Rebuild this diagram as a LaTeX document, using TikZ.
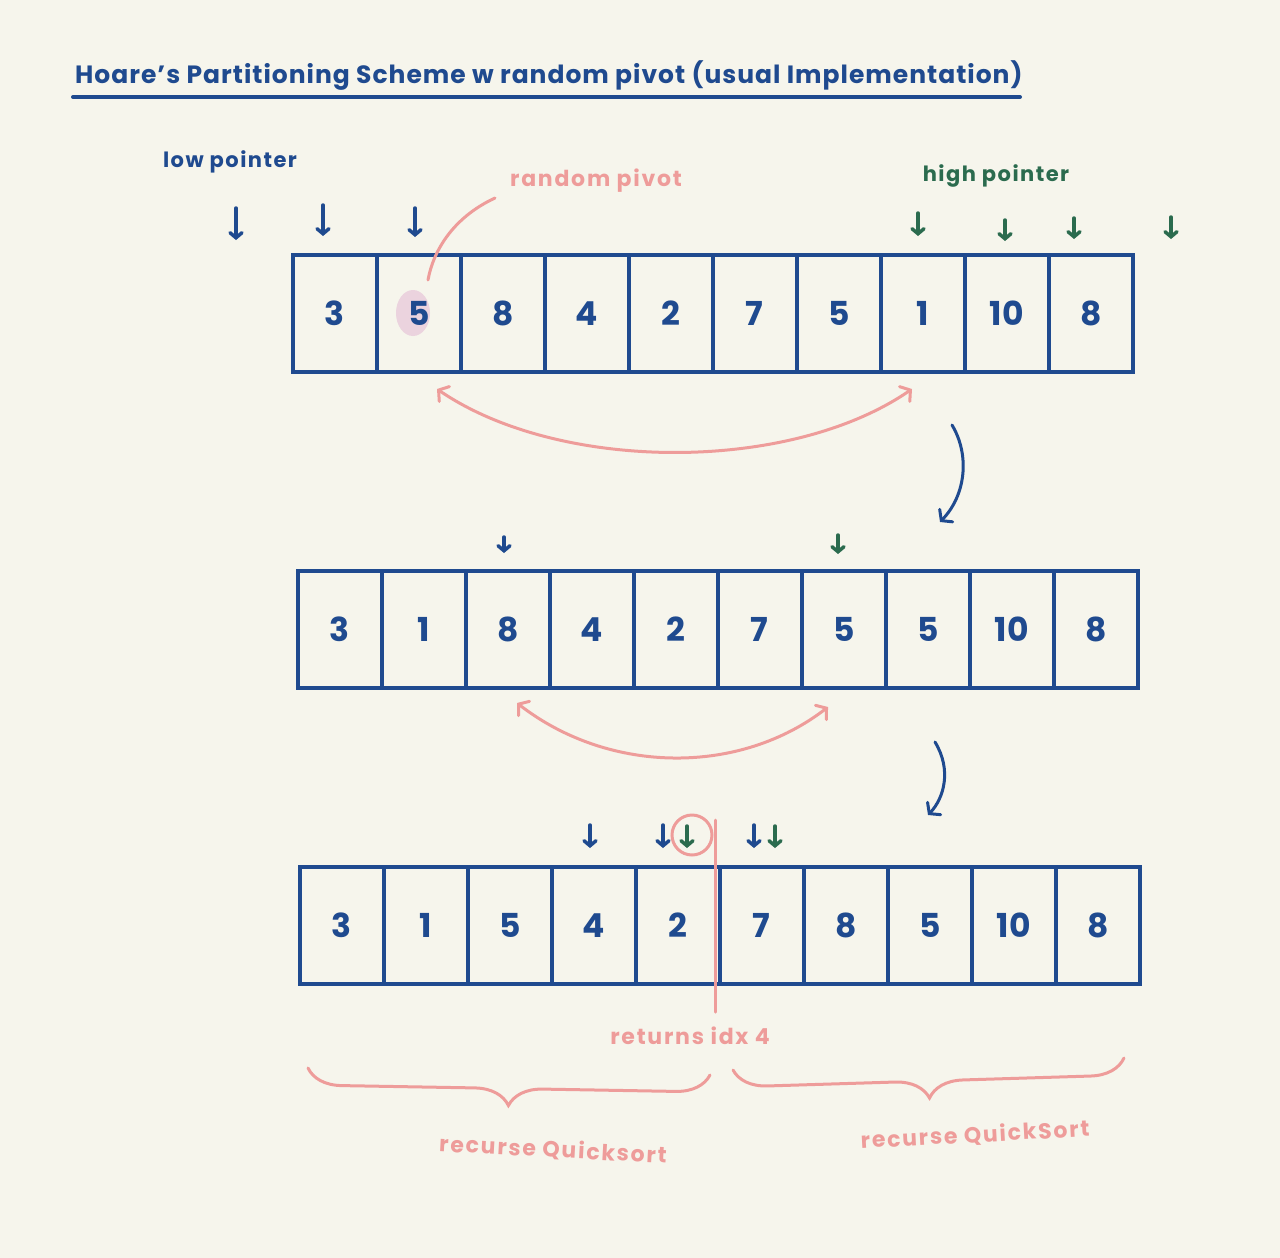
\documentclass[tikz,border=0pt]{standalone}
\usepackage{fontspec}
\setmainfont{Poppins}
\usetikzlibrary{arrows.meta,decorations.pathreplacing,calc,shapes.geometric}
\definecolor{bg}{HTML}{F6F5EC}
\definecolor{navy}{HTML}{1F4A8F}
\definecolor{grn}{HTML}{2B6B4E}
\definecolor{pnk}{HTML}{EE9C9A}
\definecolor{lilac}{HTML}{EBD3DE}
\tikzset{
  cell/.style={draw=navy,line width=3.5pt,minimum width=84pt,minimum height=117pt,inner sep=0pt,
    text=navy,font=\fontsize{33}{33}\selectfont\bfseries,anchor=north west},
  bptr/.style={draw=navy,line width=3.5pt,line cap=round,-{Straight Barb[length=5pt,width=12pt,line cap=round]}},
  gptr/.style={draw=grn,line width=3.5pt,line cap=round,-{Straight Barb[length=5pt,width=12pt,line cap=round]}},
  swap/.style={draw=pnk,line width=3pt,line cap=round,{Straight Barb[length=7pt,width=18pt,line cap=round]}-{Straight Barb[length=7pt,width=18pt,line cap=round]}},
  flow/.style={draw=navy,line width=3pt,line cap=round,-{Straight Barb[length=7pt,width=18pt,line cap=round]}},
  pline/.style={draw=pnk,line width=3pt,line cap=round},
  pbrace/.style={draw=pnk,line width=3pt,line cap=round,decorate,decoration={brace,mirror,amplitude=34pt,aspect=0.5}},
  ptxt/.style={text=pnk,font=\fontsize{22}{22}\selectfont\bfseries\addfontfeatures{LetterSpace=8},inner sep=0pt},
  ntxt/.style={text=navy,font=\fontsize{21}{21}\selectfont\bfseries\addfontfeatures{LetterSpace=7},inner sep=0pt},
  gtxt/.style={text=grn,font=\fontsize{21}{21}\selectfont\bfseries\addfontfeatures{LetterSpace=7},inner sep=0pt},
}
\begin{document}
\begin{tikzpicture}[x=1pt,y=-1pt]
\fill[bg] (0,0) rectangle (1280,1258);
\useasboundingbox (0,0) rectangle (1280,1258);

% title
\node[text=navy,font=\fontsize{25}{25}\selectfont\bfseries\addfontfeatures{LetterSpace=4},inner sep=0pt,anchor=base west] (title) at (75,83)
  {Hoare's Partitioning Scheme w random pivot (usual Implementation)};
\coordinate (ul1) at (73,97);
\coordinate (ul2) at (1020,97);
\draw[navy,line width=4pt,line cap=round] (ul1) -- (ul2);

% labels
\node[ntxt] (lowlbl) at (230,162) {low pointer};
\node[ptxt] (rplbl) at (596,181) {random pivot};
\node[gtxt] (highlbl) at (996,176) {high pointer};

% pivot highlight
\node[ellipse,fill=lilac,minimum width=34pt,minimum height=46pt,inner sep=0pt] (pivhl) at (413,313) {};

% row 1
\foreach \v [count=\i] in {3,5,8,4,2,7,5,1,10,8}
  \node[cell] (a\i) at ({291+84*(\i-1)},253) {\v};
% row 2
\foreach \v [count=\i] in {3,1,8,4,2,7,5,5,10,8}
  \node[cell] (b\i) at ({296+84*(\i-1)},569) {\v};
% row 3
\foreach \v [count=\i] in {3,1,5,4,2,7,8,5,10,8}
  \node[cell] (c\i) at ({298+84*(\i-1)},865) {\v};

% random pivot pointer
\coordinate (rp1) at (495,198);
\coordinate (rp2) at (428,280);
\draw[pline] (rp1) .. controls (452,218) and (433,252) .. (rp2);

% pointers row 1
\foreach \x/\ya/\yb in {236/208/240,323/205/236,415/208/237}
  \draw[bptr] (\x,\ya) -- (\x,\yb);
\foreach \x/\ya/\yb in {918/213/236,1005/220/241,1074/218/239,1171/217/239}
  \draw[gptr] (\x,\ya) -- (\x,\yb);
% pointers row 2
\draw[bptr] (504,537) -- (504,553);
\draw[gptr] (838,535) -- (838,554);
% pointers row 3
\foreach \x in {590,663,754}
  \draw[bptr] (\x,825) -- (\x,848);
\foreach \x in {687,775}
  \draw[gptr] (\x,826) -- (\x,848);
\node[circle,draw=pnk,line width=3pt,minimum size=40pt,inner sep=0pt] (meet) at (692,835) {};

% swap arcs
\coordinate (s1a) at (437,389);
\coordinate (s1b) at (912,389);
\draw[swap] (s1a) .. controls (560,473) and (790,473) .. (s1b);
\coordinate (s2a) at (517,703);
\coordinate (s2b) at (828,707);
\draw[swap] (s2a) .. controls (610,775) and (740,775) .. (s2b);

% flow arrows
\coordinate (f1a) at (952,425);
\coordinate (f1b) at (940,522);
\draw[flow] (f1a) .. controls (970,455) and (966,495) .. (f1b);
\coordinate (f2a) at (935,742);
\coordinate (f2b) at (928,815);
\draw[flow] (f2a) .. controls (952,770) and (944,798) .. (f2b);

% split line
\coordinate (sp1) at (715,820);
\coordinate (sp2) at (715,1012);
\draw[pline] (sp1) -- (sp2);
\node[ptxt] (retlbl) at (690,1036) {returns idx 4};

% braces
\coordinate (bl1) at (308,1068);
\coordinate (bl2) at (710,1075);
\draw[pbrace] (bl1) -- (bl2);
\coordinate (br1) at (733,1070);
\coordinate (br2) at (1124,1058);
\draw[pbrace] (br1) -- (br2);
\node[ptxt,rotate=-3] (recL) at (553,1150) {recurse Quicksort};
\node[ptxt,rotate=3] (recR) at (975,1135) {recurse QuickSort};
\end{tikzpicture}
\end{document}
